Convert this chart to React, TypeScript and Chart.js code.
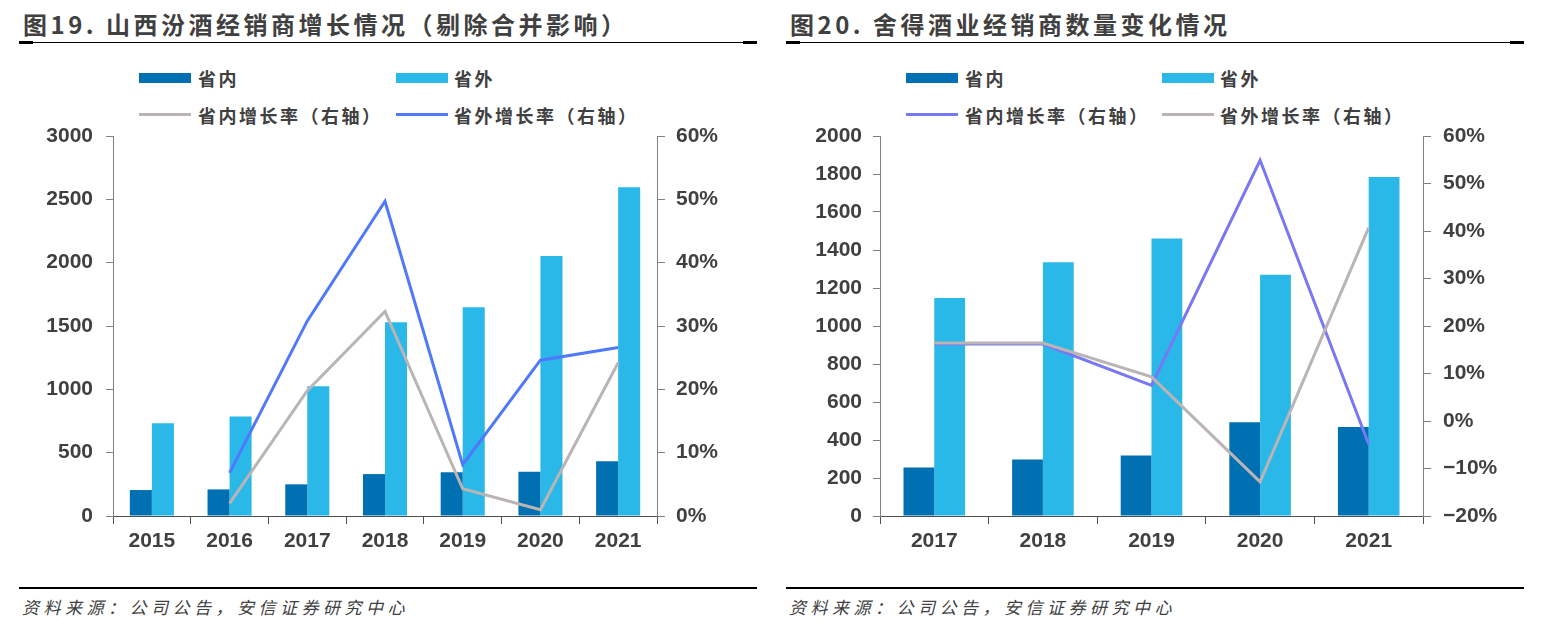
import React, { useEffect, useRef } from 'react';
import { Chart, registerables } from 'chart.js';

Chart.register(...registerables);

// ---------- Data: 图19 山西汾酒 ----------
const fenjiuYears = ['2015', '2016', '2017', '2018', '2019', '2020', '2021'];
const fenjiuInner = [205, 210, 250, 331, 345, 350, 432];
const fenjiuOuter = [732, 785, 1024, 1529, 1648, 2053, 2595];
const fenjiuInnerGrowth = [null, 2.0, 19.8, 32.3, 4.3, 1.0, 24.2];
const fenjiuOuterGrowth = [null, 6.8, 30.8, 49.7, 8.1, 24.6, 26.6];

// ---------- Data: 图20 舍得酒业 ----------
const shedeYears = ['2017', '2018', '2019', '2020', '2021'];
const shedeInner = [255, 297, 318, 493, 468];
const shedeOuter = [1147, 1335, 1460, 1270, 1784];
const shedeInnerGrowth = [16.2, 16.2, 7.5, 54.9, -4.9];
const shedeOuterGrowth = [16.4, 16.4, 9.3, -12.8, 40.7];

const title1 = '图19. 山西汾酒经销商增长情况（剔除合并影响）';
const title2 = '图20. 舍得酒业经销商数量变化情况';
const sourceText = '资料来源：公司公告，安信证券研究中心';
const legendInner = '省内';
const legendOuter = '省外';
const legendInnerGrowth = '省内增长率（右轴）';
const legendOuterGrowth = '省外增长率（右轴）';

const INNER_COLOR = '#0070B3';
const OUTER_COLOR = '#29B8E8';
const GRAY_LINE = '#BAB4B4';
const BLUE_LINE = '#5078FA';
const PURPLE_LINE = '#7878F5';
const TEXT = '#404040';
const CJK = '"Noto Sans CJK SC", "Noto Sans", sans-serif';
const TICK_FONT = { family: '"Liberation Sans", Arial, sans-serif', size: 21, weight: 'bold' as const };

type ComboProps = {
  left: number;
  width: number;
  categories: string[];
  inner: number[];
  outer: number[];
  innerGrowth: (number | null)[];
  outerGrowth: (number | null)[];
  innerGrowthColor: string;
  outerGrowthColor: string;
  grayOnTop: 'inner' | 'outer';
  leftMax: number;
  leftStep: number;
  rightMin: number;
  rightMax: number;
  rightStep: number;
  leftPad: number;
  rightPad: number;
  rightWidth: number;
};

function ComboChart(p: ComboProps) {
  const ref = useRef<HTMLCanvasElement>(null);
  useEffect(() => {
    const chart = new Chart(ref.current as HTMLCanvasElement, {
      type: 'bar',
      data: {
        labels: p.categories,
        datasets: [
          {
            type: 'line',
            label: legendInnerGrowth,
            data: p.innerGrowth,
            yAxisID: 'y1',
            borderColor: p.innerGrowthColor,
            backgroundColor: p.innerGrowthColor,
            borderWidth: 3,
            pointRadius: 0,
            tension: 0,
            order: p.grayOnTop === 'inner' ? 0 : 1,
          } as any,
          {
            type: 'line',
            label: legendOuterGrowth,
            data: p.outerGrowth,
            yAxisID: 'y1',
            borderColor: p.outerGrowthColor,
            backgroundColor: p.outerGrowthColor,
            borderWidth: 3,
            pointRadius: 0,
            tension: 0,
            order: p.grayOnTop === 'outer' ? 0 : 1,
          } as any,
          {
            type: 'bar',
            label: legendInner,
            data: p.inner,
            yAxisID: 'y',
            backgroundColor: INNER_COLOR,
            categoryPercentage: 0.567,
            barPercentage: 1,
            order: 2,
          },
          {
            type: 'bar',
            label: legendOuter,
            data: p.outer,
            yAxisID: 'y',
            backgroundColor: OUTER_COLOR,
            categoryPercentage: 0.567,
            barPercentage: 1,
            order: 2,
          },
        ],
      },
      options: {
        responsive: false,
        animation: false,
        layout: { padding: { top: 36, bottom: 24, left: 0, right: 0 } },
        plugins: { legend: { display: false }, tooltip: { enabled: false } },
        scales: {
          x: {
            grid: { offset: true, drawOnChartArea: false, drawTicks: true, tickLength: 8, color: '#505050' },
            border: { display: true, color: '#505050', width: 1 },
            ticks: { font: TICK_FONT, color: TEXT, padding: 5, maxRotation: 0 },
            afterFit: (s: any) => {
              s.height = 40;
            },
          },
          y: {
            position: 'left',
            min: 0,
            max: p.leftMax,
            ticks: {
              stepSize: p.leftStep,
              font: TICK_FONT,
              color: TEXT,
              padding: p.leftPad,
              callback: (v: any) => String(v),
            },
            grid: { drawOnChartArea: false, drawTicks: true, tickLength: 7, color: '#808080' },
            border: { display: true, color: '#808080', width: 1 },
            afterFit: (s: any) => {
              s.width = 113;
            },
          },
          y1: {
            position: 'right',
            min: p.rightMin,
            max: p.rightMax,
            ticks: {
              stepSize: p.rightStep,
              font: TICK_FONT,
              color: TEXT,
              padding: p.rightPad,
              callback: (v: any) => (Number(v) < 0 ? '−' + Math.abs(Number(v)) + '%' : v + '%'),
            },
            grid: { drawOnChartArea: false, drawTicks: true, tickLength: 8, color: '#808080' },
            border: { display: true, color: '#808080', width: 1 },
            afterFit: (s: any) => {
              s.width = p.rightWidth;
            },
          },
        },
      },
    });
    return () => chart.destroy();
  }, []);
  return (
    <canvas
      ref={ref}
      width={p.width}
      height={480}
      style={{ position: 'absolute', left: p.left, top: 100, width: p.width, height: 480 }}
    />
  );
}

function Abs(props: { left: number; top: number; style?: React.CSSProperties; children?: React.ReactNode }) {
  return (
    <div style={{ position: 'absolute', left: props.left, top: props.top, whiteSpace: 'nowrap', ...props.style }}>
      {props.children}
    </div>
  );
}

function Frame(props: { x0: number; title: string; lx1: number; lx2: number; c1: string; c2: string }) {
  const { x0 } = props;
  const legendText: React.CSSProperties = {
    fontFamily: CJK,
    fontSize: 18,
    fontWeight: 700,
    lineHeight: '20px',
    letterSpacing: '2.5px',
    color: TEXT,
  };
  return (
    <>
      <Abs
        left={x0 + 4}
        top={10}
        style={{ fontFamily: CJK, fontSize: 24, fontWeight: 700, lineHeight: '28px', letterSpacing: '3.5px', color: TEXT }}
      >
        {props.title}
      </Abs>
      <Abs left={x0} top={42} style={{ width: 738, height: 1, background: '#000' }} />
      <Abs left={x0} top={41} style={{ width: 14, height: 3, background: '#000' }} />
      <Abs left={x0 + 724} top={41} style={{ width: 14, height: 3, background: '#000' }} />

      <Abs left={props.lx1} top={73} style={{ width: 52, height: 10, background: INNER_COLOR }} />
      <Abs left={props.lx1 + 59} top={68} style={legendText}>
        {legendInner}
      </Abs>
      <Abs left={props.lx2} top={73} style={{ width: 52, height: 10, background: OUTER_COLOR }} />
      <Abs left={props.lx2 + 58} top={68} style={legendText}>
        {legendOuter}
      </Abs>
      <Abs left={props.lx1} top={113} style={{ width: 52, height: 3, background: props.c1 }} />
      <Abs left={props.lx1 + 59} top={105} style={legendText}>
        {legendInnerGrowth}
      </Abs>
      <Abs left={props.lx2} top={113} style={{ width: 52, height: 3, background: props.c2 }} />
      <Abs left={props.lx2 + 58} top={105} style={legendText}>
        {legendOuterGrowth}
      </Abs>

      <Abs left={x0} top={587} style={{ width: 738, height: 2, background: '#000' }} />
      <Abs
        left={x0 + 3}
        top={597}
        style={{ fontFamily: CJK, fontSize: 17, fontStyle: 'italic', lineHeight: '20px', letterSpacing: '4.5px', color: TEXT }}
      >
        {sourceText}
      </Abs>
    </>
  );
}

export default function App() {
  return (
    <div
      style={{
        position: 'absolute',
        left: 0,
        top: 0,
        width: 1547,
        height: 634,
        background: '#fff',
        overflow: 'hidden',
      }}
    >
      <Frame x0={19} title={title1} lx1={139} lx2={396} c1={GRAY_LINE} c2={BLUE_LINE} />
      <Frame x0={786} title={title2} lx1={906} lx2={1162} c1={PURPLE_LINE} c2={GRAY_LINE} />
      <ComboChart
        left={0}
        width={727}
        categories={fenjiuYears}
        inner={fenjiuInner}
        outer={fenjiuOuter}
        innerGrowth={fenjiuInnerGrowth}
        outerGrowth={fenjiuOuterGrowth}
        innerGrowthColor={GRAY_LINE}
        outerGrowthColor={BLUE_LINE}
        grayOnTop="inner"
        leftMax={3000}
        leftStep={500}
        rightMin={0}
        rightMax={60}
        rightStep={10}
        leftPad={13}
        rightPad={11}
        rightWidth={70}
      />
      <ComboChart
        left={767}
        width={736}
        categories={shedeYears}
        inner={shedeInner}
        outer={shedeOuter}
        innerGrowth={shedeInnerGrowth}
        outerGrowth={shedeOuterGrowth}
        innerGrowthColor={PURPLE_LINE}
        outerGrowthColor={GRAY_LINE}
        grayOnTop="outer"
        leftMax={2000}
        leftStep={200}
        rightMin={-20}
        rightMax={60}
        rightStep={10}
        leftPad={11}
        rightPad={12}
        rightWidth={80}
      />
    </div>
  );
}
